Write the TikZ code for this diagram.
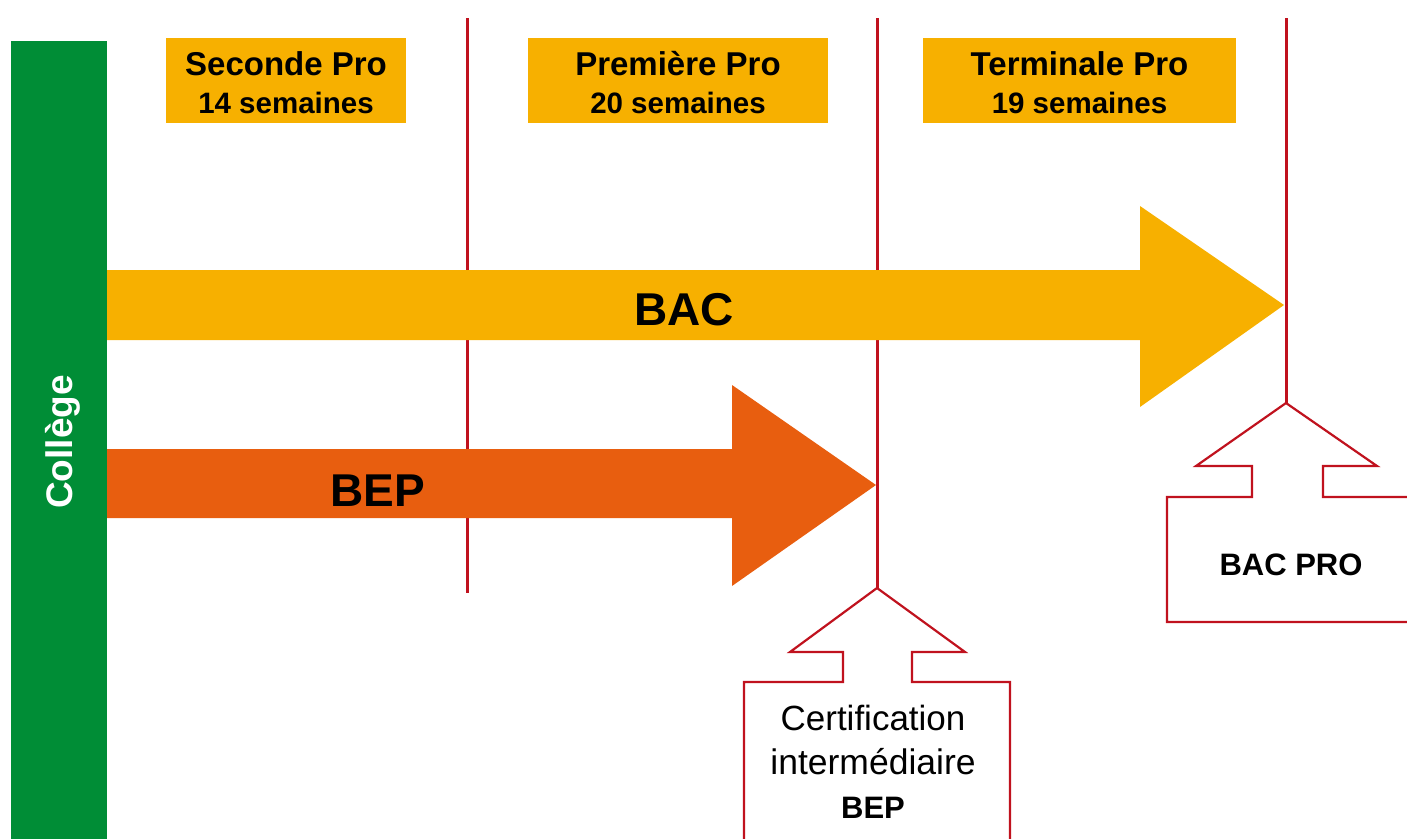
\documentclass[tikz,border=0pt]{standalone}
\usepackage{fontspec}
\setmainfont{Liberation Sans}
\definecolor{gold}{HTML}{F7B000}
\definecolor{bepor}{HTML}{E85E0F}
\definecolor{colgreen}{HTML}{008D36}
\definecolor{tred}{HTML}{C0121E}
\begin{document}
\begin{tikzpicture}[x=1pt,y=-1pt,
  redline/.style={draw=tred,line width=3pt},
  callout/.style={draw=tred,fill=white,line width=2.2pt,line join=miter},
  hdr/.style={fill=gold,inner sep=0pt},
  txt/.style={anchor=base,inner sep=0pt,text=black},
  fs/.style={font=\fontsize{#1}{#1}\selectfont}]
\useasboundingbox (0,0) rectangle (1407,838);
\clip (0,0) rectangle (1407,838);
% college bar
\fill[colgreen] (11,41) rectangle (107,845);
\node[txt,rotate=90,text=white,fs=37] (college) at (72,442) {\bfseries Collège};
% year separators
\draw[redline] (467,18) -- (467,593);
\draw[redline] (877,18) -- (877,590);
\draw[redline] (1286,18) -- (1286,405);
% header boxes
\node[hdr,minimum width=240pt,minimum height=85pt] (h1) at (286,80.5) {};
\node[hdr,minimum width=300pt,minimum height=85pt] (h2) at (678,80.5) {};
\node[hdr,minimum width=313pt,minimum height=85pt] (h3) at (1079.5,80.5) {};
\node[txt,fs=33] (h1a) at (286,75) {\bfseries Seconde Pro};
\node[txt,fs=29.5] (h1b) at (286,113) {\bfseries 14 semaines};
\node[txt,fs=33] (h2a) at (678,75) {\bfseries Première Pro};
\node[txt,fs=29.5] (h2b) at (678,113) {\bfseries 20 semaines};
\node[txt,fs=33] (h3a) at (1079.5,75) {\bfseries Terminale Pro};
\node[txt,fs=29.5] (h3b) at (1079.5,113) {\bfseries 19 semaines};
% arrows
\fill[gold] (107,270) -- (1140,270) -- (1140,206) -- (1284,305) -- (1140,407) -- (1140,340) -- (107,340) -- cycle;
\fill[bepor] (107,449) -- (732,449) -- (732,385) -- (876,485) -- (732,586) -- (732,518) -- (107,518) -- cycle;
\node[txt,fs=46] (bac) at (684,325) {\bfseries BAC};
\node[txt,fs=46] (bep) at (378,506) {\bfseries BEP};
% callouts
\draw[callout] (877,588) -- (965,652) -- (912,652) -- (912,682) -- (1010,682) -- (1010,850) -- (744,850) -- (744,682) -- (843,682) -- (843,652) -- (790,652) -- cycle;
\draw[callout] (1286,403) -- (1377,466) -- (1323,466) -- (1323,497) -- (1420,497) -- (1420,622) -- (1167,622) -- (1167,497) -- (1252,497) -- (1252,466) -- (1196,466) -- cycle;
\node[txt,fs=35] (c1) at (873,730) {Certification};
\node[txt,fs=35.5] (c2) at (873,774) {intermédiaire};
\node[txt,fs=31] (c3) at (873,818) {\bfseries BEP};
\node[txt,fs=31] (bacpro) at (1291,575) {\bfseries BAC PRO};
\end{tikzpicture}
\end{document}
